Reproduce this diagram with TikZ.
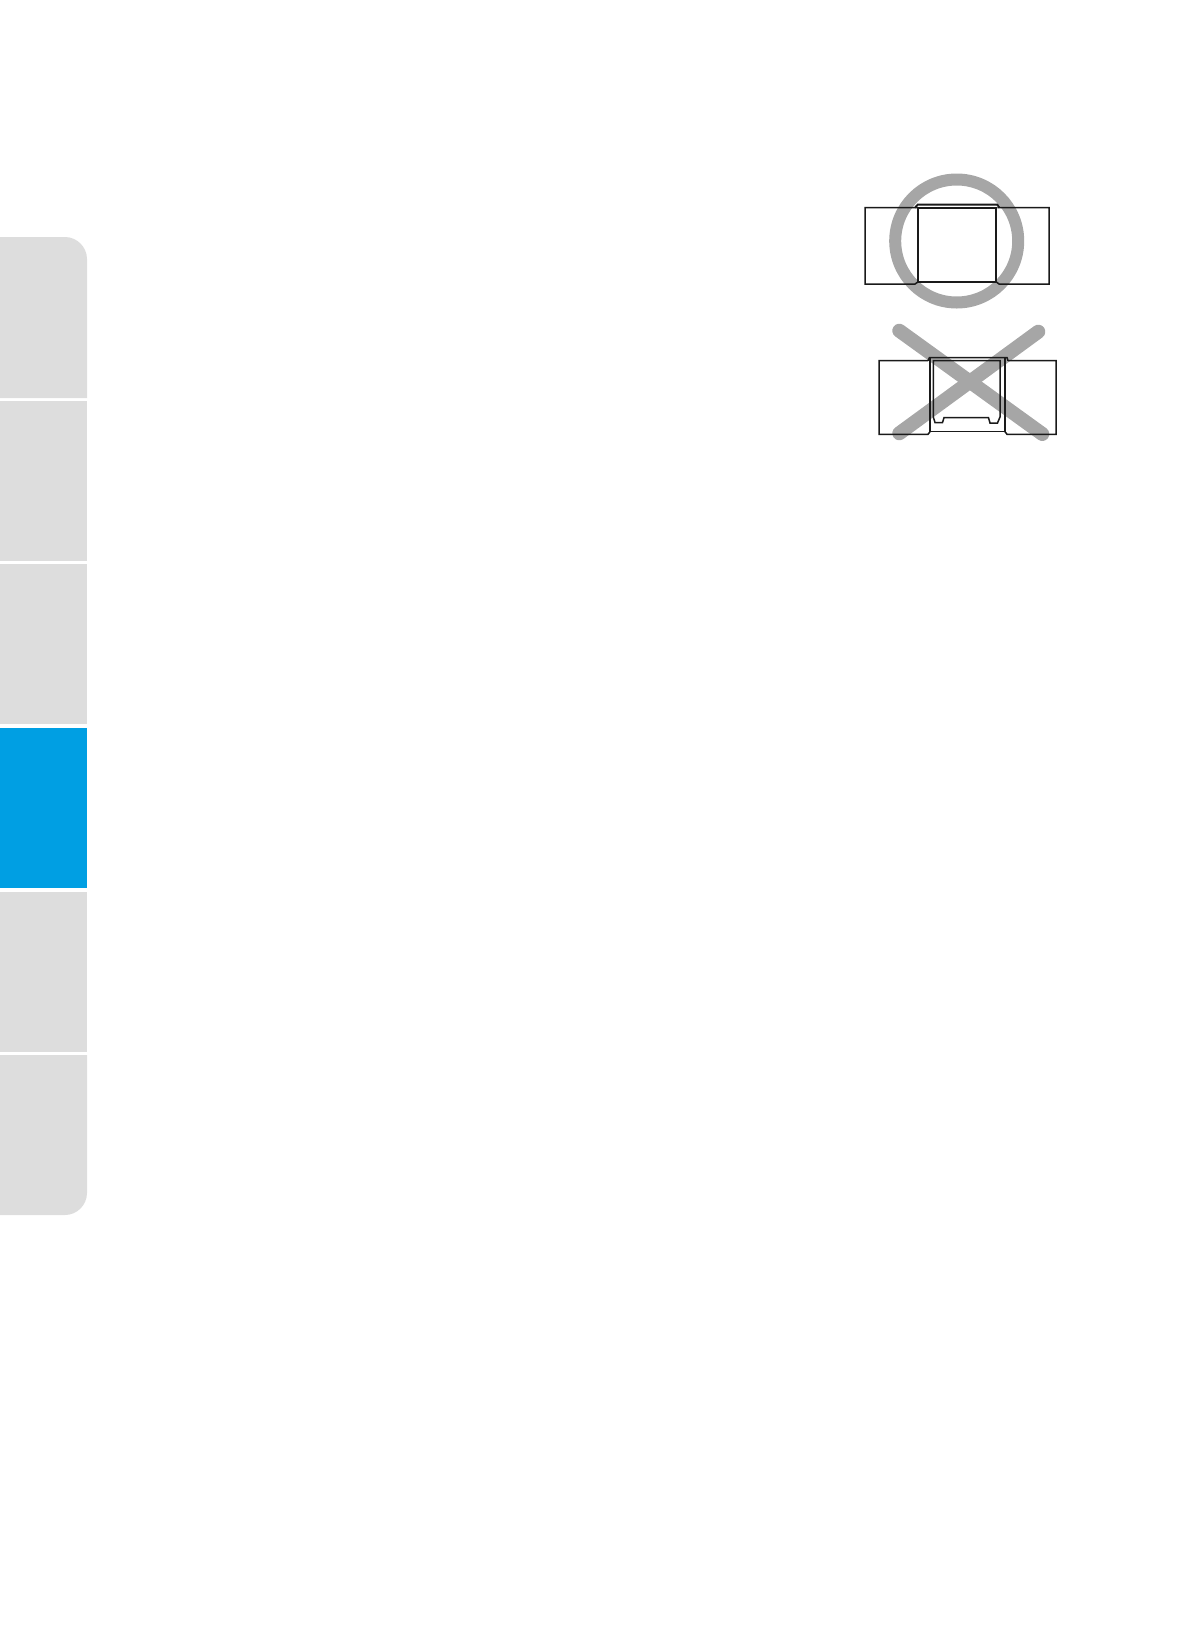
\documentclass[tikz,border=0pt]{standalone}
\definecolor{tabgrey}{HTML}{DDDDDD}
\definecolor{tabblue}{HTML}{009FE3}
\definecolor{markgrey}{HTML}{A6A6A6}
\definecolor{inkline}{HTML}{1A1A1A}
\tikzset{
  tabshape/.style={fill=tabgrey,draw=none},
  marker/.style={draw=markgrey,line width=14pt,line cap=round},
  thinink/.style={draw=inkline,line width=1.5pt,line join=miter},
  thickink/.style={draw=inkline,line width=1.9pt,line join=miter}
}
\begin{document}
\begin{tikzpicture}[x=1pt,y=-1pt]
\useasboundingbox (0,0) rectangle (1190,1644);
% side tabs
\fill[tabshape] (0,398) -- (0,237) -- (65,237) .. controls (77,237) and (87,247) .. (87,259) -- (87,398) -- cycle;
\fill[tabshape] (0,401) rectangle (87,561);
\fill[tabshape] (0,564) rectangle (87,724);
\fill[tabblue] (0,728) rectangle (87,888);
\fill[tabshape] (0,892) rectangle (87,1052);
\fill[tabshape] (0,1055) -- (87,1055) -- (87,1193) .. controls (87,1205) and (77,1215) .. (65,1215) -- (0,1215) -- cycle;
% correct figure
\draw[draw=markgrey,line width=12pt] (956.7,241) circle[radius=61.5];
\draw[thinink] (917.5,207.7) -- (865,207.7) -- (865,284) -- (915,284) -- (918.3,281.7);
\draw[thinink] (997.3,207.7) -- (1049,207.7) -- (1049,284) -- (999,284) -- (996,281.7);
\draw[thickink] (915,207.7) -- (917.7,204.6) -- (997.3,204.6) -- (999.5,207.7);
\draw[thickink] (918.3,207.7) rectangle (996,281.7);
% wrong figure
\draw[marker] (899.3,330.7) -- (1042.3,434);
\draw[marker] (1038.3,331.7) -- (899.3,433.3);
\draw[thinink] (928,360.7) -- (879,360.7) -- (879,434.3) -- (928,434.3) -- (930,431.7);
\draw[thinink] (1008,360.7) -- (1056,360.7) -- (1056,434.3) -- (1007,434.3) -- (1005,431.7);
\draw[thinink] (928,360.7) -- (929.5,357.5) -- (1007,357.5) -- (1008,360.7);
\draw[thinink] (930,357.5) -- (930,431.7) -- (1005,431.7) -- (1005,357.5);
\draw[thinink] (933.3,360.7) -- (1000,360.7) -- (1000,417) -- (997.5,423) -- (990,423) -- (988.5,417.7) -- (944,417.7) -- (942.5,422.5) -- (935,422.5) -- (933.3,417) -- cycle;
\end{tikzpicture}
\end{document}
